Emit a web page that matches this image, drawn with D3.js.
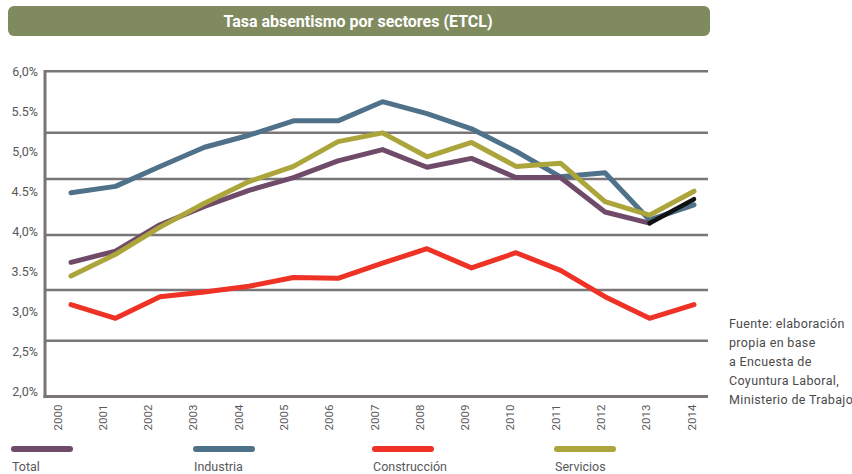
<!DOCTYPE html>
<html>
<head>
<meta charset="utf-8">
<script src="https://cdn.jsdelivr.net/npm/d3@7"></script>
<style>
  html, body { margin: 0; padding: 0; background: #ffffff; }
  svg { display: block; }
  text { font-family: Roboto, "DejaVu Sans", sans-serif; }
</style>
</head>
<body>
<svg id="chart" width="852" height="474"></svg>
<script>
// Absenteeism rate by sector (%), 2000-2014
const years = ["2000","2001","2002","2003","2004","2005","2006","2007","2008","2009","2010","2011","2012","2013","2014"];
const total        = [3.61, 3.75, 4.08, 4.31, 4.51, 4.67, 4.88, 5.02, 4.80, 4.91, 4.67, 4.67, 4.24, 4.10, 4.40];
const industria    = [4.48, 4.56, 4.81, 5.05, 5.20, 5.38, 5.38, 5.62, 5.47, 5.28, 5.00, 4.68, 4.73, 4.14, 4.33];
const construccion = [3.08, 2.91, 3.18, 3.24, 3.31, 3.42, 3.41, 3.60, 3.78, 3.54, 3.73, 3.51, 3.18, 2.91, 3.08];
const servicios    = [3.44, 3.71, 4.05, 4.35, 4.62, 4.81, 5.12, 5.23, 4.93, 5.11, 4.81, 4.85, 4.37, 4.20, 4.50];

const seriesNames  = ["Total", "Industria", "Construcción", "Servicios"];
const seriesValues = [total, industria, construccion, servicios];
const seriesColors = ["#6f4a69", "#4f7189", "#ee3226", "#aca53b"];

const yTickValues = [6.0, 5.5, 5.0, 4.5, 4.0, 3.5, 3.0, 2.5, 2.0];
const yTickLabels = ["6,0%", "5.5%", "5,0%", "4.5%", "4,0%", "3.5%", "3,0%", "2,5%", "2,0%"];
const gridValues  = [6.0, 5.232, 4.652, 3.952, 3.263, 2.628];

const titleText = "Tasa absentismo por sectores (ETCL)";
const sourceLines = ["Fuente: elaboración", "propia en base", "a Encuesta de", "Coyuntura Laboral,", "Ministerio de Trabajo"];

const svg = d3.select("#chart");

// Layout
const plotLeft = 45, plotRight = 708, plotTop = 71.3;
const axisColor = "#7a7579";

const y = d3.scaleLinear().domain([2, 6]).range([391, 71.3]);
const plotBottom = y(1.93);
const x = d3.scalePoint().domain(years).range([71, 694]);
const xLab = d3.scalePoint().domain(years).range([57, 691]);

// Title banner
svg.append("rect")
  .attr("x", 8).attr("y", 6).attr("width", 702).attr("height", 30)
  .attr("rx", 6).attr("ry", 6)
  .attr("fill", "#7f8b5f");
svg.append("text")
  .attr("x", 358).attr("y", 21)
  .attr("dy", "0.36em")
  .attr("text-anchor", "middle")
  .attr("fill", "#ffffff")
  .attr("font-size", 16)
  .attr("font-weight", "bold")
  .text(titleText);

// Horizontal gridlines
svg.append("g").selectAll("line")
  .data(gridValues)
  .join("line")
  .attr("x1", plotLeft).attr("x2", plotRight)
  .attr("y1", d => y(d)).attr("y2", d => y(d))
  .attr("stroke", axisColor)
  .attr("stroke-width", 2.5);

// Left and bottom axis lines
svg.append("line")
  .attr("x1", plotLeft).attr("x2", plotLeft)
  .attr("y1", plotTop - 1.2).attr("y2", plotBottom + 1.5)
  .attr("stroke", axisColor).attr("stroke-width", 3);
svg.append("line")
  .attr("x1", plotLeft - 1.5).attr("x2", plotRight)
  .attr("y1", plotBottom).attr("y2", plotBottom)
  .attr("stroke", axisColor).attr("stroke-width", 3);

// Y axis labels
const yAxis = d3.axisLeft(y)
  .tickValues(yTickValues)
  .tickFormat((d, i) => yTickLabels[i])
  .tickSize(0)
  .tickPadding(7);
const gy = svg.append("g").attr("transform", `translate(${plotLeft},0)`).call(yAxis);
gy.select(".domain").remove();
gy.selectAll("text")
  .attr("font-size", 12.5)
  .attr("fill", "#58585a")
  .style("font-family", "Roboto, sans-serif");

// X axis labels (rotated years)
const xAxis = d3.axisBottom(xLab).tickSize(0);
const gx = svg.append("g").attr("transform", `translate(0,${plotBottom})`).call(xAxis);
gx.select(".domain").remove();
gx.selectAll("text")
  .attr("transform", "rotate(-90)")
  .attr("x", -8)
  .attr("y", 0)
  .attr("dy", "0.35em")
  .attr("text-anchor", "end")
  .attr("font-size", 11.5)
  .attr("fill", "#58585a")
  .style("font-family", "Roboto, sans-serif");

// Series lines
const line = d3.line()
  .x((d, i) => x(years[i]))
  .y(d => y(d));

const drawOrder = [1, 2, 0, 3];
const lines = svg.append("g");
drawOrder.forEach(k => {
  // The total's final 2013-2014 segment is drawn in black
  const vals = k === 0 ? seriesValues[k].slice(0, years.length - 1) : seriesValues[k];
  lines.append("path")
    .attr("d", line(vals))
    .attr("fill", "none")
    .attr("stroke", seriesColors[k])
    .attr("stroke-width", 5)
    .attr("stroke-linejoin", "round")
    .attr("stroke-linecap", "round");
  if (k === 0) {
    const n = years.length;
    lines.append("line")
      .attr("x1", x(years[n - 2])).attr("y1", y(total[n - 2]))
      .attr("x2", x(years[n - 1])).attr("y2", y(total[n - 1]))
      .attr("stroke", "#111111")
      .attr("stroke-width", 4.5)
      .attr("stroke-linecap", "round");
  }
});

// Legend
const legendX = [14, 196, 375, 557];
const legend = svg.append("g");
seriesNames.forEach((name, i) => {
  legend.append("line")
    .attr("x1", legendX[i]).attr("x2", legendX[i] + 56)
    .attr("y1", 449).attr("y2", 449)
    .attr("stroke", seriesColors[i])
    .attr("stroke-width", 6)
    .attr("stroke-linecap", "round");
  legend.append("text")
    .attr("x", legendX[i] - 2)
    .attr("y", 471)
    .attr("font-size", 12.5)
    .attr("fill", "#58585a")
    .text(name);
});

// Source note
svg.append("g").selectAll("text")
  .data(sourceLines)
  .join("text")
  .attr("x", 729)
  .attr("y", (d, i) => 328 + i * 19)
  .attr("font-size", 12.5)
  .attr("letter-spacing", 0.35)
  .attr("fill", "#4a4a4c")
  .text(d => d);
</script>
</body>
</html>
